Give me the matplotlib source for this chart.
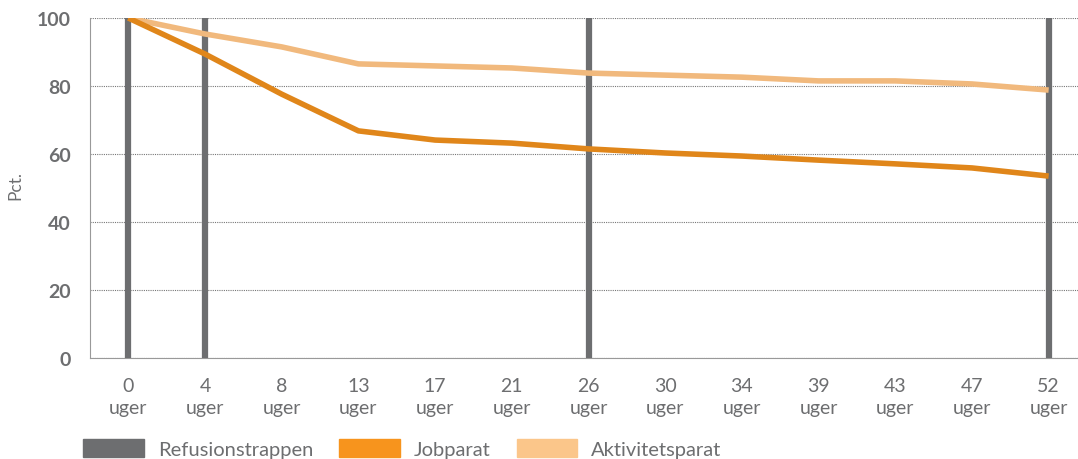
import matplotlib.pyplot as plt
from matplotlib.patches import Patch

# data
weeks = ["0", "4", "8", "13", "17", "21", "26", "30", "34", "39", "43", "47", "52"]
jobparat = [100, 89.4, 77.6, 66.8, 64.1, 63.2, 61.5, 60.3, 59.4, 58.2, 57.1, 55.9, 53.5]
aktivitetsparat = [100, 95.3, 91.5, 86.5, 85.9, 85.3, 83.8, 83.2, 82.6, 81.5, 81.5, 80.6, 78.8]
refusion_weeks = ["0", "4", "26", "52"]

grey = "#6d6e70"
c_job = "#e0861a"
c_akt = "#f1b97d"

plt.rcParams['font.family'] = ['Lato', 'DejaVu Sans']

fig = plt.figure(figsize=(10.78, 4.6), dpi=100)
ax = fig.add_axes([90 / 1078, 101 / 460, 997 / 1078, 340 / 460])

x = list(range(len(weeks)))

# refusionstrappen - lodrette streger
for w in refusion_weeks:
    ax.vlines(weeks.index(w), 0, 100, color=grey, lw=4.5, zorder=3)

ax.plot(x, aktivitetsparat, color=c_akt, lw=4, zorder=4, solid_capstyle="butt")
ax.plot(x, jobparat, color=c_job, lw=4, zorder=4, solid_capstyle="butt")

ax.set_xlim(-0.5, 12.5)
ax.set_ylim(0, 100)
ax.set_yticks([0, 20, 40, 60, 80, 100])
ax.set_xticks(x)
ax.set_xticklabels([f"{w}\nuger" for w in weeks], fontsize=14, color=grey,
                   linespacing=1.3)
for lab in ax.get_yticklabels():
    lab.set_fontweight("bold")
    lab.set_fontsize(14)
    lab.set_color(grey)
ax.tick_params(axis="both", length=0)
ax.tick_params(axis="x", pad=14)
ax.tick_params(axis="y", pad=14)

ax.grid(axis="y", linestyle=(0, (1, 1)), color="#777777", lw=0.8)
ax.set_axisbelow(True)
for s in ["top", "right"]:
    ax.spines[s].set_visible(False)
ax.spines["left"].set_color("#999999")
ax.spines["bottom"].set_color("#999999")

fig.text(15 / 1078, 1 - 185 / 460, "Pct.", rotation=90, fontsize=12.5,
         color=grey, ha="center", va="center")

handles = [Patch(color=grey, label="Refusionstrappen"),
           Patch(color="#f7941d", label="Jobparat"),
           Patch(color="#fbc68a", label="Aktivitetsparat")]
fig.legend(handles=handles, loc="lower left", bbox_to_anchor=(65 / 1078, -0.038),
           ncol=3, frameon=False, handlelength=3.0, handleheight=1.0,
           columnspacing=1.3, handletextpad=0.7, labelcolor=grey,
           prop={"size": 14.5})

fig.savefig("out.png", dpi=100)
